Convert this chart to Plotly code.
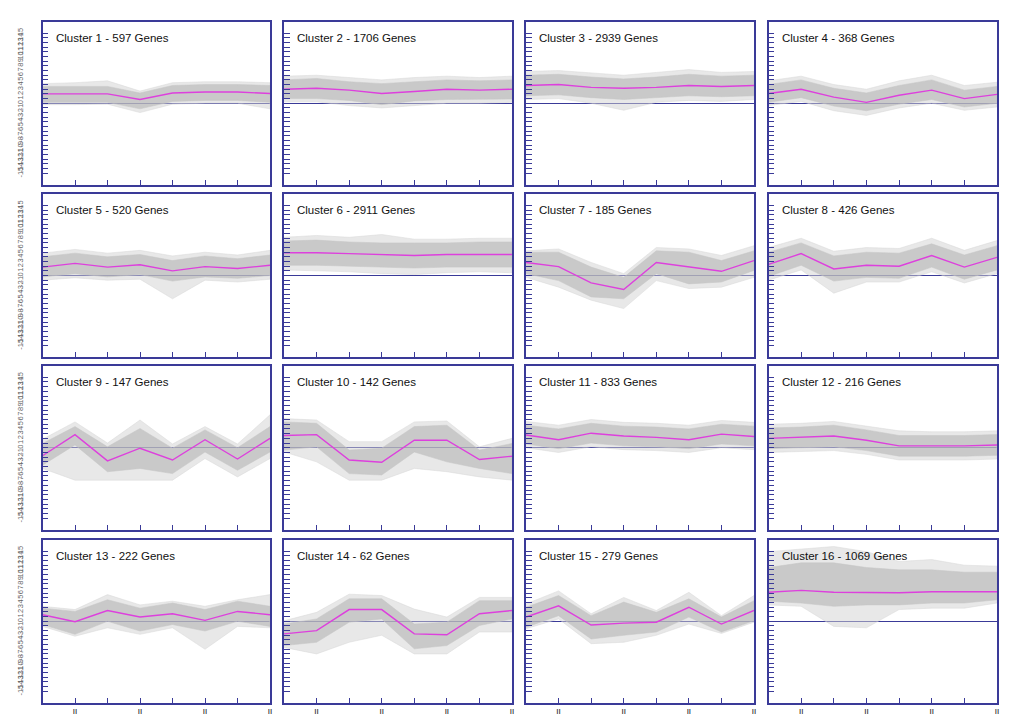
import plotly.graph_objects as go

# time points (8 arrays / conditions)
time_points = [0, 1, 2, 3, 4, 5, 6, 7]

cluster_ids = list(range(1, 17))
gene_counts = [597, 1706, 2939, 368, 520, 2911, 185, 426,
               147, 142, 833, 216, 222, 62, 279, 1069]

# magenta centroid of each cluster (log ratio)
mean_profiles = [
    [2.0, 2.0, 2.0, 0.8, 2.2, 2.4, 2.4, 2.1],
    [3.0, 3.2, 2.8, 2.1, 2.5, 3.0, 2.8, 3.0],
    [3.8, 4.0, 3.4, 3.2, 3.4, 3.8, 3.6, 3.8],
    [2.1, 3.0, 1.3, 0.2, 1.7, 2.8, 1.0, 1.9],
    [1.8, 2.6, 1.8, 2.3, 1.0, 1.9, 1.5, 2.2],
    [4.9, 4.9, 4.7, 4.5, 4.3, 4.5, 4.5, 4.5],
    [2.8, 1.9, -1.6, -3.0, 2.8, 1.9, 0.9, 3.2],
    [2.4, 4.7, 1.4, 2.2, 2.0, 4.3, 1.8, 3.9],
    [-1.7, 2.8, -2.8, -0.1, -2.6, 1.7, -2.4, 2.0],
    [2.6, 2.8, -2.6, -3.1, 1.6, 1.6, -2.5, -1.8],
    [2.7, 1.7, 3.1, 2.5, 2.2, 1.7, 2.9, 2.4],
    [2.0, 2.2, 2.5, 1.6, 0.4, 0.4, 0.4, 0.6],
    [1.4, -0.1, 2.3, 0.9, 1.6, 0.2, 2.1, 1.4],
    [-2.7, -2.0, 2.5, 2.5, -2.7, -2.9, 1.6, 2.3],
    [0.9, 3.3, -0.8, -0.4, -0.2, 3.0, -0.6, 2.3],
    [6.2, 6.6, 6.2, 6.1, 6.1, 6.3, 6.3, 6.3],
]

# dense part of the gene profiles (upper / lower edge)
core_upper = [
    [3.6, 3.6, 3.6, 2.2, 3.8, 4.0, 4.0, 3.8],
    [5.0, 5.3, 4.6, 4.2, 4.6, 5.0, 4.8, 5.0],
    [6.0, 6.2, 5.6, 5.2, 5.6, 6.2, 5.8, 6.0],
    [4.0, 5.0, 3.2, 2.2, 3.8, 5.0, 2.8, 3.6],
    [4.0, 4.8, 4.0, 4.5, 3.2, 4.2, 3.6, 4.4],
    [7.4, 7.6, 7.2, 7.0, 7.0, 7.0, 7.2, 7.2],
    [5.0, 5.0, 1.8, -0.4, 5.3, 5.0, 3.2, 5.3],
    [5.0, 7.0, 4.2, 5.0, 4.8, 6.8, 4.4, 6.4],
    [0.9, 4.5, 0.2, 4.1, -0.1, 3.8, 0.0, 4.5],
    [5.5, 5.2, -0.5, -0.1, 4.5, 4.8, -0.5, 0.9],
    [4.8, 4.0, 5.2, 4.6, 4.4, 4.0, 5.0, 4.6],
    [4.2, 4.4, 4.8, 3.8, 2.6, 2.6, 2.6, 2.8],
    [2.8, 2.1, 4.6, 2.8, 3.9, 2.5, 4.3, 3.2],
    [-0.6, 0.5, 4.8, 4.8, -0.6, -0.2, 4.4, 4.4],
    [3.0, 5.5, 1.2, 4.1, 1.9, 4.8, 0.9, 4.4],
    [11.5, 12.5, 12.5, 11.5, 11.0, 11.0, 10.5, 10.5],
]
core_lower = [
    [0.2, 0.2, 0.2, -1.2, 0.4, 0.6, 0.6, 0.2],
    [1.0, 1.0, 0.6, -0.3, 0.5, 0.8, 0.8, 0.9],
    [1.6, 1.8, 1.2, 0.8, 1.2, 1.6, 1.4, 1.6],
    [0.2, 1.2, -0.6, -1.6, -0.2, 0.8, -0.8, 0.0],
    [-0.3, 0.4, -0.3, 0.2, -1.2, -0.3, -0.6, 0.0],
    [2.2, 2.2, 2.0, 1.8, 1.6, 1.8, 1.8, 1.8],
    [0.4, -1.1, -4.6, -5.0, 0.4, -1.8, -1.4, 1.1],
    [-0.2, 2.2, -1.2, -0.4, -0.6, 1.8, -0.8, 1.2],
    [-3.7, 0.6, -5.1, -4.4, -5.5, -0.9, -4.8, -0.9],
    [-0.5, 0.2, -5.5, -5.8, -0.9, -3.0, -4.4, -5.5],
    [0.8, -0.2, 1.0, 0.4, 0.2, -0.2, 0.8, 0.4],
    [-0.2, 0.0, 0.2, -0.6, -1.8, -1.8, -1.8, -1.6],
    [-0.7, -2.8, 0.0, -2.1, -0.7, -2.1, 0.0, -1.1],
    [-5.2, -4.5, -0.2, 0.5, -5.9, -5.2, -0.9, 0.5],
    [-1.3, 1.2, -3.8, -3.0, -2.3, 0.9, -2.3, 0.1],
    [4.3, 3.9, 3.2, 3.5, 3.5, 3.9, 3.9, 4.6],
]

# sparse outliers around the dense part
outer_upper = [
    [4.2, 4.4, 4.8, 2.6, 4.4, 4.6, 4.6, 4.4],
    [5.8, 6.0, 5.5, 5.0, 5.5, 5.8, 5.5, 5.8],
    [6.8, 7.0, 6.5, 6.0, 6.6, 7.2, 6.6, 6.8],
    [4.8, 5.8, 4.0, 3.0, 4.8, 6.0, 3.8, 4.5],
    [4.8, 5.6, 4.8, 5.4, 4.2, 5.0, 4.4, 5.4],
    [8.2, 8.6, 8.2, 8.8, 7.8, 7.8, 8.0, 8.0],
    [5.3, 5.7, 2.8, 0.4, 6.0, 5.7, 4.3, 6.4],
    [6.0, 8.0, 5.2, 6.0, 5.8, 8.0, 5.4, 7.5],
    [1.8, 5.5, 1.0, 5.9, 0.8, 4.5, 0.8, 7.0],
    [6.2, 5.9, 1.3, 1.3, 5.5, 5.7, 0.2, 2.0],
    [5.6, 4.8, 6.0, 5.4, 5.2, 4.8, 5.8, 5.4],
    [5.0, 5.2, 5.6, 4.6, 3.6, 3.4, 3.4, 3.6],
    [3.2, 2.5, 5.7, 3.5, 4.3, 3.2, 4.6, 5.7],
    [0.1, 1.9, 5.8, 5.5, 2.6, 0.9, 5.1, 5.1],
    [3.7, 6.5, 1.6, 5.1, 2.3, 6.2, 1.2, 5.5],
    [14.9, 15.5, 16.0, 14.9, 12.8, 13.2, 12.0, 11.8],
]
outer_lower = [
    [-0.3, -0.3, -0.2, -2.0, -0.2, 0.0, 0.0, -1.2],
    [0.3, 0.3, -0.5, -1.0, -0.5, 0.0, 0.0, 0.2],
    [0.8, 1.0, 0.0, -1.5, 0.2, 0.6, 0.4, 0.8],
    [-0.5, 0.4, -1.6, -2.6, -1.0, 0.0, -1.5, -0.8],
    [-1.0, -0.5, -1.0, -0.8, -5.0, -1.0, -1.4, -0.8],
    [1.2, 1.0, 0.8, 0.4, 0.2, 0.6, 0.8, 0.6],
    [-0.4, -2.5, -5.3, -7.1, -1.1, -2.8, -2.5, -0.4],
    [-1.0, 1.2, -3.8, -1.4, -1.4, 0.8, -1.6, 0.4],
    [-4.4, -6.9, -6.9, -6.9, -6.9, -2.3, -6.2, -2.3],
    [-0.9, -3.0, -6.9, -6.9, -4.4, -5.1, -6.2, -6.9],
    [0.0, -1.0, 0.2, -0.4, -0.6, -1.0, 0.0, -0.4],
    [-1.0, -0.8, -0.6, -1.4, -2.6, -2.6, -2.6, -2.4],
    [-1.1, -3.2, -1.4, -2.8, -1.4, -6.0, -1.1, -1.4],
    [-5.6, -7.0, -4.5, -3.0, -7.0, -7.0, -2.3, -2.3],
    [-1.6, 0.5, -4.8, -4.5, -3.0, -0.6, -2.6, -0.2],
    [3.5, 3.2, -1.1, -1.4, 2.5, 2.8, 2.8, 3.9],
]

y_ticks = list(range(-15, 16))
x_ticks = [1, 2, 3, 4, 5, 6, 7]
bottom_labels = ["ll", "", "ll", "", "ll", "", "ll"]

# panel edges in pixels (figure is 1013 x 714); OFF compensates the page margin
W, H = 1013, 714
OFF = 7
col_px = [(41.5, 269), (283, 511), (525, 753), (767.5, 996)]
row_px = [(20.5, 184), (193, 356), (364.5, 529), (538.5, 702)]

NAVY = "#3a3a98"
MAGENTA = "#dd40dd"

fig = go.Figure()
layout = {}

for i, cid in enumerate(cluster_ids):
    r, c = divmod(i, 4)
    n = "" if i == 0 else str(i + 1)
    xa, ya = "x" + n, "y" + n

    xs = time_points + time_points[::-1]
    fig.add_trace(go.Scatter(
        x=xs, y=outer_upper[i] + outer_lower[i][::-1], xaxis=xa, yaxis=ya,
        fill="toself", fillcolor="rgba(210,210,210,0.5)",
        line=dict(width=0.6, color="rgba(215,215,215,0.8)"),
        mode="lines", hoverinfo="skip", showlegend=False))
    fig.add_trace(go.Scatter(
        x=xs, y=core_upper[i] + core_lower[i][::-1], xaxis=xa, yaxis=ya,
        fill="toself", fillcolor="rgba(180,180,180,0.6)",
        line=dict(width=0.6, color="rgba(200,200,200,0.9)"),
        mode="lines", hoverinfo="skip", showlegend=False))
    fig.add_trace(go.Scatter(
        x=time_points, y=mean_profiles[i], xaxis=xa, yaxis=ya,
        mode="lines", line=dict(color=MAGENTA, width=1.4),
        name=f"Cluster {cid}", showlegend=False))

    x0, x1 = col_px[c]
    y0, y1 = row_px[r]
    layout["xaxis" + n] = dict(
        domain=[(x0 - OFF) / W, (x1 - OFF) / W], range=[0, 7], anchor=ya,
        showgrid=False, zeroline=False, automargin=False,
        showline=True, linecolor=NAVY, linewidth=1.5, mirror=True,
        ticks="inside", ticklen=5, tickcolor=NAVY, tickwidth=1.2,
        tickvals=x_ticks,
        ticktext=bottom_labels if r == 3 else [""] * len(x_ticks),
        tickfont=dict(family="Liberation Sans", size=10, color="#333"),
        fixedrange=True)
    layout["yaxis" + n] = dict(
        domain=[1 - (y1 - OFF) / H, 1 - (y0 - OFF) / H], range=[-17.5, 17.5],
        anchor=xa, showgrid=False, automargin=False,
        zeroline=True, zerolinecolor=NAVY, zerolinewidth=1,
        showline=True, linecolor=NAVY, linewidth=1.5, mirror=True,
        ticks="inside", ticklen=6, tickcolor=NAVY, tickwidth=1,
        tickvals=y_ticks,
        ticktext=[str(v) for v in y_ticks] if c == 0 else [""] * len(y_ticks),
        tickangle=-90, ticklabelstandoff=15,
        tickfont=dict(family="Liberation Sans", size=7.5, color="#666"),
        fixedrange=True)

    fig.add_annotation(
        text=f"Cluster {cid} - {gene_counts[i]} Genes",
        xref=xa + " domain", yref=ya + " domain",
        x=0.05, y=0.9, xanchor="left", yanchor="middle",
        showarrow=False,
        font=dict(family="Liberation Sans", size=11.5, color="#111"))

fig.update_layout(
    **layout,
    width=W, height=H,
    margin=dict(l=0, r=0, t=0, b=0),
    paper_bgcolor="white", plot_bgcolor="white",
    showlegend=False,
)

fig.write_html("out.html")
